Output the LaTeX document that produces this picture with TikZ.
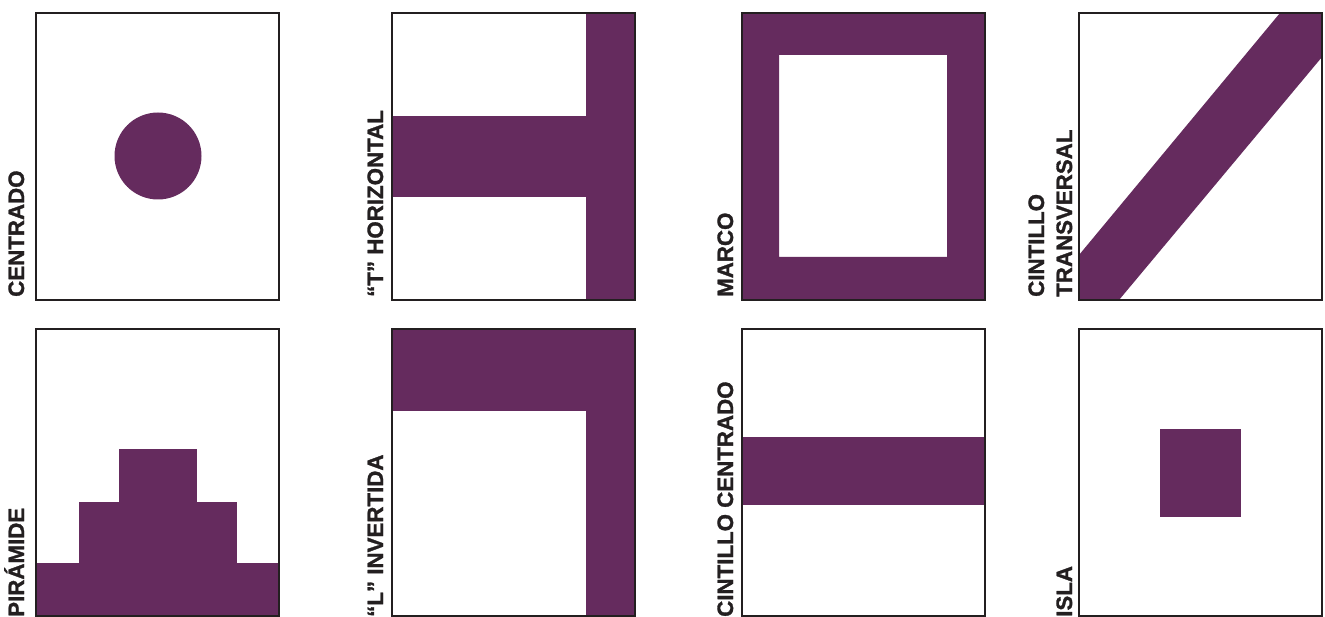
\documentclass[tikz,border=0pt]{standalone}
\usepackage{fontspec}
\setmainfont{Liberation Sans}[BoldFeatures={FakeBold=1.3}]
\usepackage{tikz}
\usetikzlibrary{positioning}
\definecolor{vino}{HTML}{652B5E}
\definecolor{marcogris}{HTML}{231F20}
\tikzset{
  caja/.style={draw=marcogris, line width=2pt},
  etiqueta/.style={rotate=90, anchor=base west, inner sep=0pt, text=marcogris,
    font=\bfseries\fontsize{22.3}{26}\selectfont}
}

\begin{document}
\begin{tikzpicture}[x=1pt, y=-1pt]
\useasboundingbox (0,0) rectangle (1325,617);

% fila superior
\begin{scope}[shift={(36,13)}]
    \fill[vino] (122,143) circle (43.5);
    \draw[caja] (0,0) rectangle (243,287);
\end{scope}
\node[etiqueta] (centrado) at (24,297) {CENTRADO};

\begin{scope}[shift={(392,13)}]
    \fill[vino] (194,0) rectangle (243,287);
    \fill[vino] (0,103) rectangle (194,184);
    \draw[caja] (0,0) rectangle (243,287);
\end{scope}
\node[etiqueta] (thoriz) at (383,297) {“T” HORIZONTAL};

\begin{scope}[shift={(742,13)}]
    \fill[vino, even odd rule] (0,0) rectangle (243,287) (37,42) rectangle (205,244);
    \draw[caja] (0,0) rectangle (243,287);
\end{scope}
\node[etiqueta] (marco) at (733,297) {MARCO};

\begin{scope}[shift={(1079,13)}]
    \fill[vino] (0,287) -- (0,242) -- (201,0) -- (243,0) -- (243,44) -- (40,287) -- cycle;
    \draw[caja] (0,0) rectangle (243,287);
\end{scope}
\node[etiqueta] (cintA) at (1044,297) {CINTILLO};
\node[etiqueta] (cintB) at (1072,297) {TRANSVERSAL};

% fila inferior
\begin{scope}[shift={(36,329)}]
    \foreach \xa/\xb/\yt in {0/243/234, 43/201/173, 83/161/120}
        \fill[vino] (\xa,\yt) rectangle (\xb,287);
    \draw[caja] (0,0) rectangle (243,287);
\end{scope}
\node[etiqueta] (piramide) at (24,617) {PIRÁMIDE};

\begin{scope}[shift={(392,329)}]
    \fill[vino] (0,0) rectangle (243,82);
    \fill[vino] (194,0) rectangle (243,287);
    \draw[caja] (0,0) rectangle (243,287);
\end{scope}
\node[etiqueta] (linv) at (383,617) {“L” INVERTIDA};

\begin{scope}[shift={(742,329)}]
    \fill[vino] (0,108) rectangle (243,176);
    \draw[caja] (0,0) rectangle (243,287);
\end{scope}
\node[etiqueta] (cintcentro) at (733,617) {CINTILLO CENTRADO};

\begin{scope}[shift={(1079,329)}]
    \fill[vino] (81,100) rectangle (162,188);
    \draw[caja] (0,0) rectangle (243,287);
\end{scope}
\node[etiqueta] (isla) at (1072,617) {ISLA};
\end{tikzpicture}
\end{document}
